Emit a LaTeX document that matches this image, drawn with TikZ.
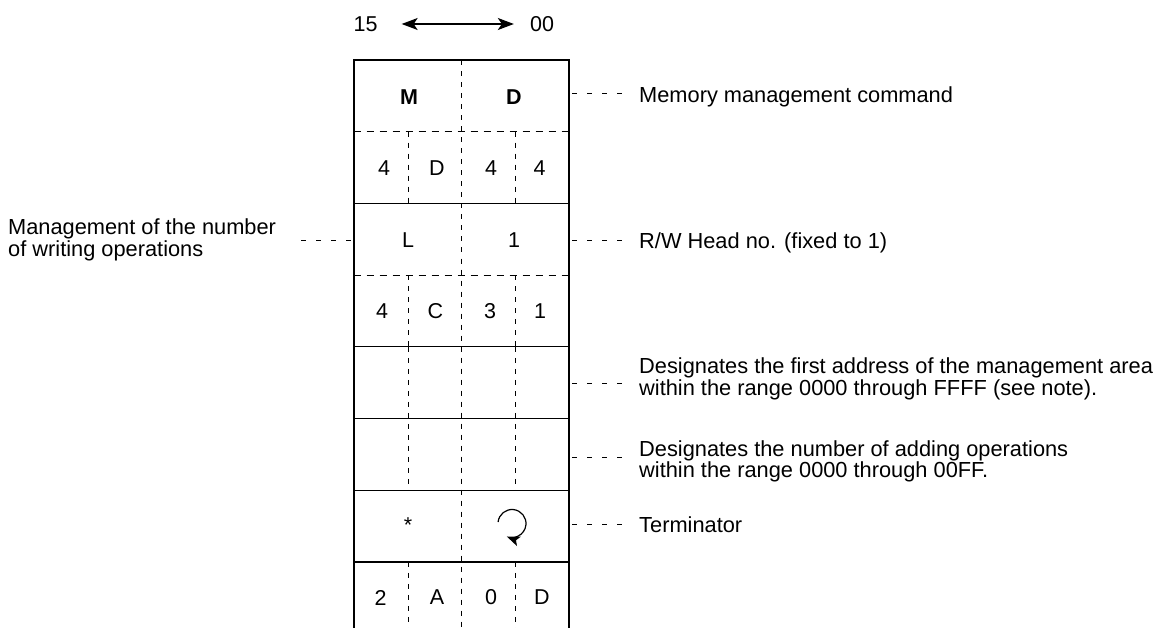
\documentclass[tikz,border=0pt]{standalone}
\usepackage{fontspec}
\setmainfont{Liberation Sans}
\usetikzlibrary{arrows.meta}
\begin{document}
\begin{tikzpicture}[x=1pt,y=-1pt,
  frame/.style={line width=2pt, line cap=rect},
  rowline/.style={line width=1.2pt},
  vdash/.style={line width=0.9pt, dash pattern=on 5pt off 6pt},
  hdash/.style={line width=0.9pt, dash pattern=on 7pt off 6pt},
  leader/.style={line width=0.9pt, dash pattern=on 5pt off 10pt},
  cell/.style={font=\fontsize{21.5}{19}\selectfont, inner sep=0pt},
  boldcell/.style={font=\fontsize{21.5}{19}\selectfont\bfseries, inner sep=0pt},
  lbl/.style={font=\fontsize{21.8}{18.5}\selectfont, inner sep=0pt, anchor=base west, align=left},
  bitarrow/.style={line width=1.3pt, {Stealth[length=16pt,width=12pt,inset=4pt]}-{Stealth[length=16pt,width=12pt,inset=4pt]}}]
\useasboundingbox (0,0) rectangle (1158,628);

% top bit-order indicator
\node[cell] (b15) at (365.5,24) {15};
\node[cell] (b00) at (542,24) {00};
\draw[bitarrow] ([xshift=24pt]b15.east) -- ([xshift=-16pt]b00.west);

% inner horizontal lines
\draw[hdash] (353.5,131.7) -- (569,131.7);
\draw[rowline] (353.5,203.4) -- (569,203.4);
\draw[hdash] (353.5,275.1) -- (569,275.1);
\draw[rowline] (353.5,346.8) -- (569,346.8);
\draw[rowline] (353.5,418.5) -- (569,418.5);
\draw[rowline] (353.5,490.2) -- (569,490.2);
\draw[rowline] (353.5,561.9) -- (569,561.9);

% center dashed divider
\draw[vdash] (461.7,60.5) -- (461.7,630);

% quarter dashed dividers
\foreach \xx in {408,515.3} {
  \draw[vdash] (\xx,131.7) -- (\xx,203.4);
  \draw[vdash] (\xx,275.1) -- (\xx,346.8);
  \draw[vdash] (\xx,346.8) -- (\xx,490.2);
  \draw[vdash] (\xx,561.9) -- (\xx,630);
}

% outer frame
\draw[frame] (353.5,640) -- (353.5,60.5) -- (569,60.5) -- (569,640);

% row 1
\node[boldcell] (m) at (409,97) {M};
\node[boldcell] (d) at (514,97) {D};
% row 2
\node[cell] (r2a) at (384,168.5) {4};
\node[cell] (r2b) at (437,168.5) {D};
\node[cell] (r2c) at (491,168.5) {4};
\node[cell] (r2d) at (539.5,168.5) {4};
% row 3
\node[cell] (l) at (408,240) {L};
\node[cell] (one) at (514,240) {1};
% row 4
\node[cell] (r4a) at (382,311.5) {4};
\node[cell] (r4b) at (435.5,311.5) {C};
\node[cell] (r4c) at (490,311.5) {3};
\node[cell] (r4d) at (540,311.5) {1};
% row 7
\node[cell] (star) at (408,525) {*};
\coordinate (cr) at (512,523.5);
\draw[line width=1.2pt, -{Stealth[length=13pt,width=10pt,inset=3pt]}] ([shift={(-174:14)}]cr) arc[start angle=-174, end angle=112, radius=14];
% row 8
\node[cell] (r8a) at (380.5,597.5) {2};
\node[cell] (r8b) at (437,597.5) {A};
\node[cell] (r8c) at (491,597.5) {0};
\node[cell] (r8d) at (542,597.5) {D};

% right labels (base anchor = baseline of the last line)
\node[lbl] (t1) at (639,103) {Memory management command};
\node[lbl] (t2) at (639,248) {R/W Head no. (fixed to 1)};
\node[lbl] (t3) at (639,395) {Designates the first address of the management area\\within the range 0000 through FFFF (see note).};
\node[lbl] (t4) at (639,477.5) {Designates the number of adding operations\\within the range 0000 through 00FF.};
\node[lbl] (t5) at (639,532) {Terminator};
% left label
\node[lbl] (t0) at (8,256) {Management of the number\\of writing operations};

% leaders
\coordinate (e1) at (572,93);   \coordinate (f1) at (623,93);
\coordinate (e2) at (572,240);  \coordinate (f2) at (623,240);
\coordinate (e3) at (572,383.5);  \coordinate (f3) at (623,383.5);
\coordinate (e4) at (572,457.5);  \coordinate (f4) at (623,457.5);
\coordinate (e5) at (572,524);  \coordinate (f5) at (623,524);
\coordinate (e0) at (350.5,240); \coordinate (f0) at (299,240);
\draw[leader] (e1) -- (f1);
\draw[leader] (e2) -- (f2);
\draw[leader] (e3) -- (f3);
\draw[leader] (e4) -- (f4);
\draw[leader] (e5) -- (f5);
\draw[leader] (e0) -- (f0);
\end{tikzpicture}
\end{document}
